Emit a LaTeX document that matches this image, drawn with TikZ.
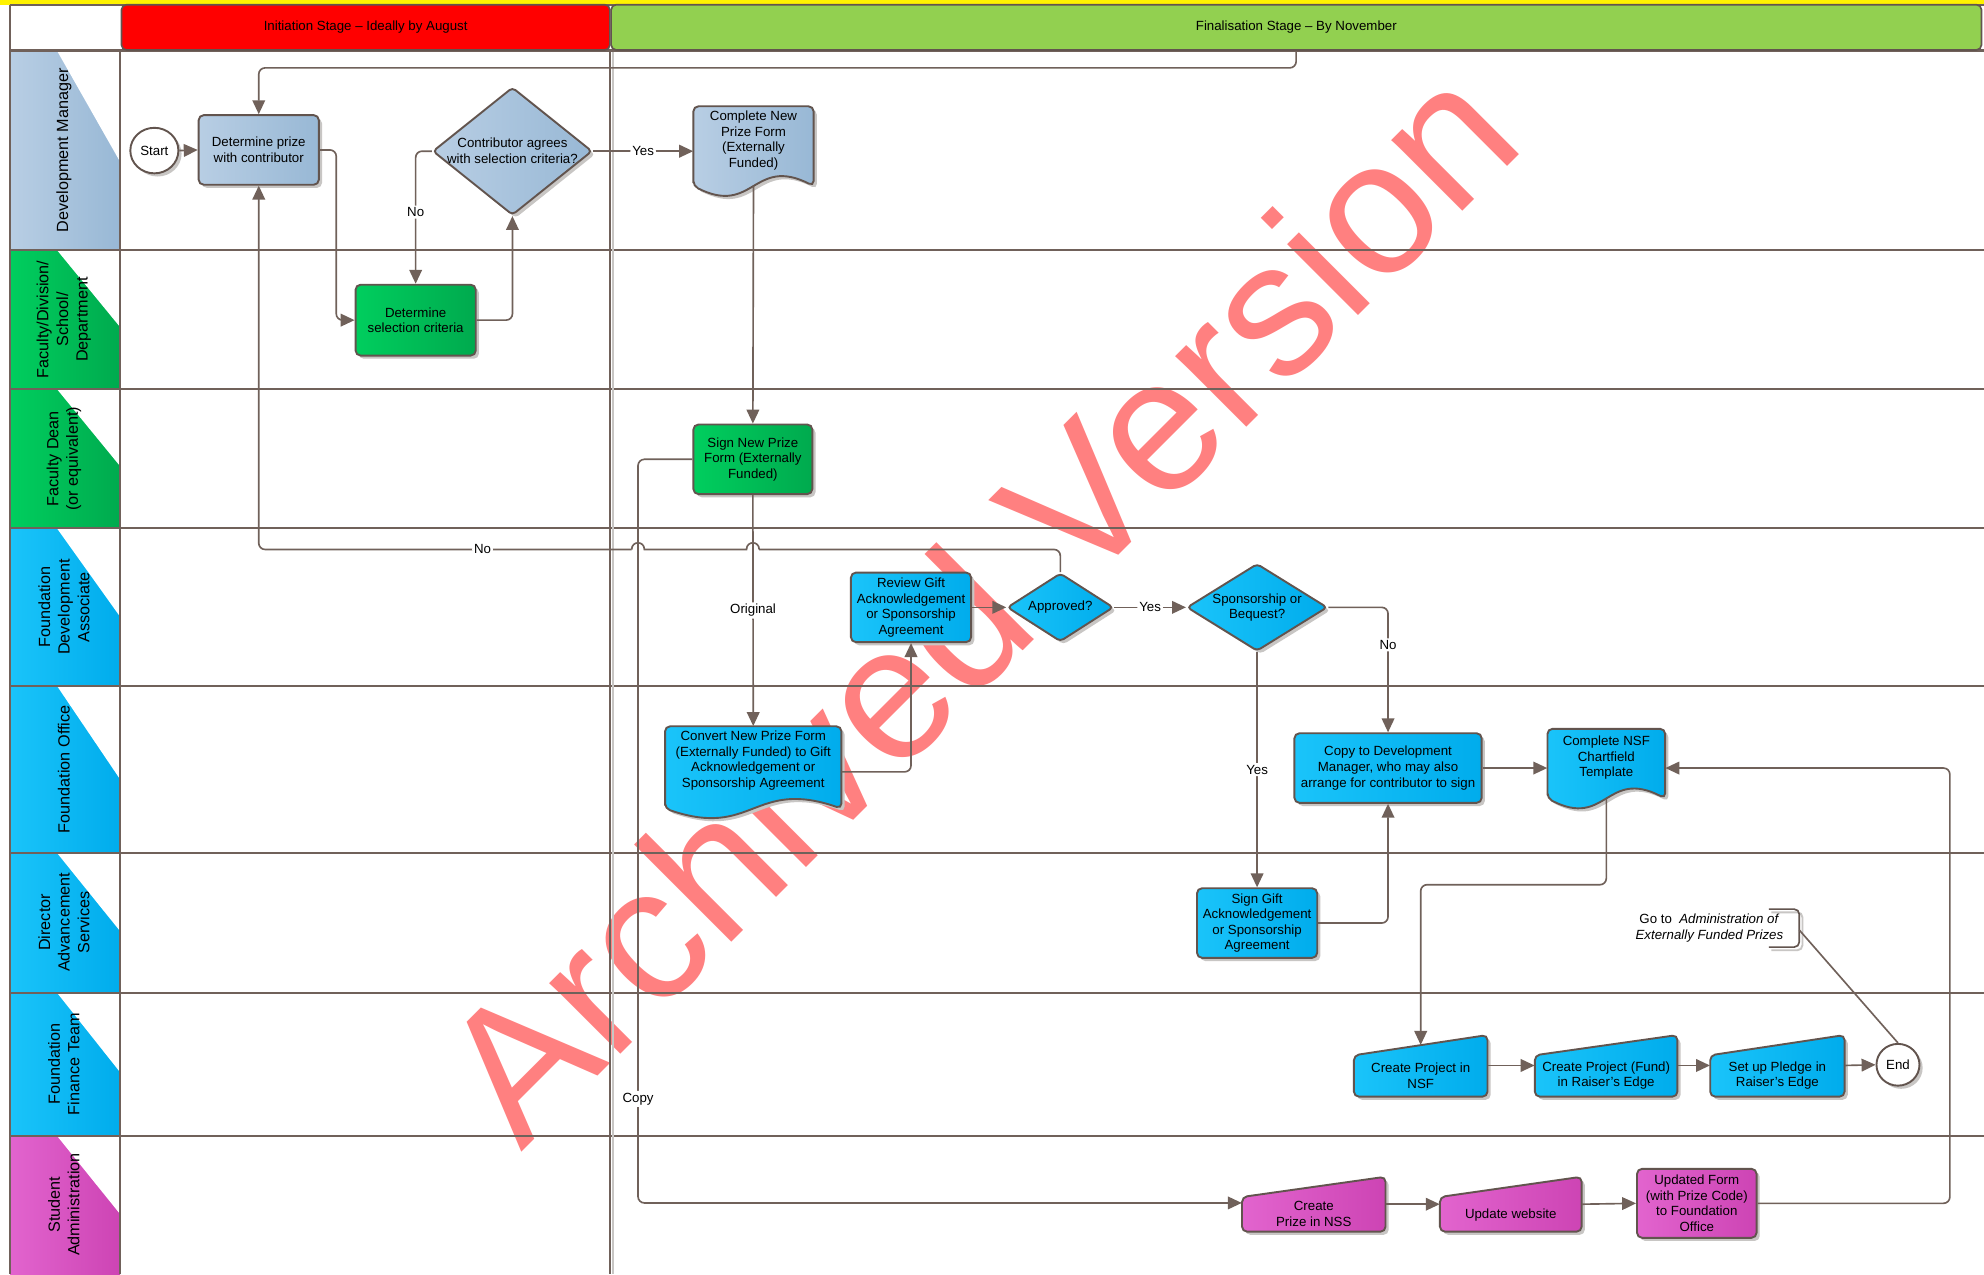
\documentclass[tikz,border=0pt]{standalone}
\usepackage{fontspec}
\setmainfont{Liberation Sans}
\usetikzlibrary{arrows.meta,shapes.geometric,shadows,calc}
\definecolor{ln}{RGB}{112,97,90}
\definecolor{bd}{RGB}{98,84,78}
\definecolor{dmA}{RGB}{184,206,228}
\definecolor{dmB}{RGB}{152,184,213}
\definecolor{grA}{RGB}{0,206,94}
\definecolor{grB}{RGB}{0,170,78}
\definecolor{blA}{RGB}{26,196,250}
\definecolor{blB}{RGB}{0,172,236}
\definecolor{mgA}{RGB}{226,100,206}
\definecolor{mgB}{RGB}{205,68,180}
\definecolor{hdG}{RGB}{146,208,80}
\definecolor{wm}{RGB}{255,128,128}
\definecolor{shd}{RGB}{200,198,196}
\newcommand{\docshape}[6]{%
 \fill[shd, rounded corners=4pt] (#1+2.5,#4+2.5) -- (#1+2.5,#2+2.5) -- (#3+2.5,#2+2.5) -- (#3+2.5,#4+2.5) .. controls (0.5*#1+0.5*#3+2.5,#4-21.5) and (0.5*#1+0.5*#3+2.5,#4+26.5) .. (#1+2.5,#4+2.5) -- cycle;
 \draw[draw=bd, line width=1.5pt, rounded corners=4pt, left color=#5, right color=#6] (#1,#4) -- (#1,#2) -- (#3,#2) -- (#3,#4) .. controls (0.5*#1+0.5*#3,#4-24) and (0.5*#1+0.5*#3,#4+24) .. (#1,#4) -- cycle;}
\newcommand{\mishape}[7]{%
 \fill[shd, rounded corners=4pt] (#1+2.5,#2+2.5) -- (#3+2.5,#4+2.5) -- (#3+2.5,#5+2.5) -- (#1+2.5,#5+2.5) -- cycle;
 \draw[draw=bd, line width=1.5pt, rounded corners=4pt, left color=#6, right color=#7] (#1,#2) -- (#3,#4) -- (#3,#5) -- (#1,#5) -- cycle;}
\newcommand{\lanefill}[5]{%
 \fill[left color=#4, right color=#5] (8,#1) rectangle (95,#2);
 \fill[white] (45,#1) -- (95,#1) -- (95,#1+#3) -- cycle;}
\begin{document}
\begin{tikzpicture}[x=1pt,y=-1pt,
 nf/.style={font=\fontsize{10.5}{12.3}\selectfont},
 conn/.style={draw=ln, line width=1.3pt, rounded corners=5pt},
 arr/.style={conn, -{Triangle[length=11pt,width=10pt]}},
 lbl/.style={nf, fill=white, inner sep=1.5pt},
 txt/.style={nf, align=center, inner sep=0pt},
 anch/.style={rectangle, inner sep=0pt, draw=none},
 box/.style={nf, rectangle, rounded corners=4pt, draw=bd, line width=1.5pt, align=center, inner sep=1pt,
   drop shadow={shadow xshift=2.5pt, shadow yshift=-2.5pt, fill=shd, opacity=1}},
 dia/.style={diamond, draw=bd, line width=1.5pt, inner sep=0pt, rounded corners=3pt,
   drop shadow={shadow xshift=2.5pt, shadow yshift=-2.5pt, fill=shd, opacity=1}},
 term/.style={ellipse, draw=bd, line width=1.5pt, fill=white, nf, inner sep=0pt,
   drop shadow={shadow xshift=2.5pt, shadow yshift=-2.5pt, fill=shd, opacity=1}},
 hdr/.style={rectangle, rounded corners=4pt, draw=bd, line width=1.3pt, nf, inner sep=0pt},
 lanetxt/.style={rotate=90, align=center, font=\fontsize{12.8}{15.5}\selectfont, inner sep=0pt},
 lane/.style={draw=ln, line width=1.8pt},
 dmfill/.style={left color=dmA, right color=dmB},
 grfill/.style={left color=grA, right color=grB},
 blfill/.style={left color=blA, right color=blB},
 mgfill/.style={left color=mgA, right color=mgB},
 wmark/.style={text=wm, font=\fontsize{150}{150}\selectfont, inner sep=0pt}]
\useasboundingbox (0,0) rectangle (1568,1007);
\fill[white] (0,0) rectangle (1568,1007);
% watermark
\node[wmark, anchor=base west, rotate=45] (wmk) at (412,911) {Archived Version};
% top strip
\fill[yellow] (0,0) rectangle (1568,3.6);
% lane label cells
\lanefill{40}{197.6}{88}{dmA}{dmB}
\lanefill{197.6}{307.5}{61}{grA}{grB}
\lanefill{307.5}{417.5}{61}{grA}{grB}
\lanefill{417.5}{542}{70}{blA}{blB}
\lanefill{542}{674}{74}{blA}{blB}
\lanefill{674}{784.5}{62}{blA}{blB}
\lanefill{784.5}{897.6}{63}{blA}{blB}
\lanefill{897.6}{1007}{62}{mgA}{mgB}
% lane lines
\draw[draw=ln, line width=1pt] (8,4) -- (1568,4);
\foreach \yy in {40,197.6,307.5,417.5,542,674,784.5,897.6} {\draw[lane] (8,\yy) -- (1568,\yy);}
\draw[lane] (8,3.6) -- (8,1007);
\draw[lane, line width=1.4pt] (95,40) -- (95,1007);
\draw[lane] (482,40) -- (482,1007);
\draw[draw=shd, line width=1.5pt] (484.6,41) -- (484.6,1007);
% headers
\node[hdr, fill=red, minimum width=386pt, minimum height=35.8pt] (inithdr) at (289,21.6) {Initiation Stage – Ideally by August};
\node[hdr, fill=hdG, minimum width=1083pt, minimum height=35.8pt] (finhdr) at (1024.5,21.6) {Finalisation Stage – By November};
% lane labels
\node[lanetxt] (lDM) at (50.5,118.8) {Development Manager};
\node[lanetxt] (lFac) at (50.5,252.5) {Faculty/Division/\\School/\\Department};
\node[lanetxt] (lDean) at (50.5,362.5) {Faculty Dean\\(or equivalent)};
\node[lanetxt] (lFDA) at (50.5,479.8) {Foundation\\Development\\Associate};
\node[lanetxt] (lFO) at (50.5,608) {Foundation Office};
\node[lanetxt] (lDir) at (50.5,729) {Director\\Advancement\\Services};
\node[lanetxt] (lFFT) at (50.5,841) {Foundation\\Finance Team};
\node[lanetxt] (lSA) at (50.5,952) {Student\\Administration};
% nodes
\node[term, minimum width=38pt, minimum height=36pt] (start) at (122,119) {Start};
\node[box, dmfill, minimum width=95pt, minimum height=55pt] (detprize) at (204.5,118.5) {Determine prize\\with contributor};
\node[dia, dmfill, minimum width=126pt, minimum height=101pt] (contrib) at (405,119.5) {};
\node[txt] (contribT) at (405,119) {Contributor agrees\\with selection criteria?};
\docshape{548}{84}{643}{147}{dmA}{dmB}
\node[anch, minimum width=95pt, minimum height=63pt] (cnpf) at (595.5,115.5) {};
\node[txt] (cnpfT) at (595.5,111) {Complete New\\Prize Form\\(Externally\\Funded)};
\node[box, grfill, minimum width=95pt, minimum height=56pt] (detsel) at (328.5,253) {Determine\\selection criteria};
\node[box, grfill, minimum width=94pt, minimum height=55pt] (signnpf) at (595,363) {Sign New Prize\\Form (Externally\\Funded)};
\node[box, blfill, minimum width=95pt, minimum height=55pt] (review) at (720,480) {Review Gift\\Acknowledgement\\or Sponsorship\\Agreement};
\node[dia, blfill, minimum width=84pt, minimum height=54pt] (approved) at (838,480) {};
\node[txt] (approvedT) at (838,480) {Approved?};
\node[dia, blfill, minimum width=111pt, minimum height=69pt] (sponsor) at (993.5,480) {};
\node[txt] (sponsorT) at (993.5,480) {Sponsorship or\\Bequest?};
\docshape{525.6}{574}{665}{639}{blA}{blB}
\node[anch, minimum width=139.4pt, minimum height=65pt] (convert) at (595.3,606.5) {};
\node[txt] (convertT) at (595.3,601) {Convert New Prize Form\\(Externally Funded) to Gift\\Acknowledgement or\\Sponsorship Agreement};
\node[box, blfill, minimum width=148pt, minimum height=55pt] (copydm) at (1097,607) {Copy to Development\\Manager, who may also\\arrange for contributor to sign};
\docshape{1223}{576}{1316}{631}{blA}{blB}
\node[anch, minimum width=93pt, minimum height=55pt] (chart) at (1269.5,603.5) {};
\node[txt] (chartT) at (1269.5,599) {Complete NSF\\Chartfield\\Template};
\node[box, blfill, minimum width=95pt, minimum height=55pt] (signgift) at (993.5,729.5) {Sign Gift\\Acknowledgement\\or Sponsorship\\Agreement};
% annotation
\node[txt] (goto) at (1351,733.5) {Go to \ \textit{Administration of}\\\textit{Externally Funded Prizes}};
\draw[draw=shd, line width=1.5pt, rounded corners=4pt] (1400,721) -- (1424.5,721) -- (1424.5,751) -- (1400,751);
\draw[draw=bd, line width=1.3pt, rounded corners=4pt] (1398,718.5) -- (1422,718.5) -- (1422,748.5) -- (1398,748.5);
\coordinate (gotoB) at (1422,735);
\node[term, minimum width=34pt, minimum height=33pt] (end) at (1500,841.5) {End};
\mishape{1070}{834}{1175.6}{818}{866.7}{blA}{blB}
\node[anch, minimum width=105.6pt, minimum height=40.7pt] (cpnsf) at (1122.8,846.35) {};
\node[txt] (cpnsfT) at (1122.8,850) {Create Project in\\NSF};
\mishape{1213}{834}{1325.7}{818}{866.7}{blA}{blB}
\node[anch, minimum width=112.7pt, minimum height=40.7pt] (cpfund) at (1269.35,846.35) {};
\node[txt] (cpfundT) at (1269.35,850) {Create Project (Fund)\\in Raiser's Edge};
\mishape{1351.6}{834}{1457.8}{818}{866.7}{blA}{blB}
\node[anch, minimum width=106.2pt, minimum height=40.7pt] (pledge) at (1404.7,846.35) {};
\node[txt] (pledgeT) at (1404.7,850) {Set up Pledge in\\Raiser's Edge};
\mishape{981.6}{946}{1095}{930}{973.4}{mgA}{mgB}
\node[anch, minimum width=113.4pt, minimum height=35.4pt] (cprize) at (1038.3,955.7) {};
\node[txt] (cprizeT) at (1038.3,959.5) {Create\\Prize in NSS};
\mishape{1138}{946}{1250}{930}{973.4}{mgA}{mgB}
\node[anch, minimum width=112pt, minimum height=35.4pt] (updweb) at (1194,955.7) {};
\node[txt] (updwebT) at (1194,960) {Update website};
\node[box, mgfill, minimum width=94.5pt, minimum height=54.5pt] (updform) at (1341,951) {Updated Form\\(with Prize Code)\\to Foundation\\Office};
% connectors
\draw[arr] ([xshift=542pt]finhdr.south west) -- ++(0,13.5) -| (detprize.north);
\draw[arr] (start.east) -- (detprize.west);
\draw[arr] (detprize.east) -- ++(13,0) |- (detsel.west);
\draw[arr] (detsel.east) -| (contrib.south);
\draw[arr] (contrib.west) -| node[lbl,pos=0.73]{No} (detsel.north);
\draw[arr] (contrib.east) -- node[lbl]{Yes} (contrib.east -| cnpf.west);
\draw[arr] (cnpf.south) -- (signnpf.north);
\draw[arr] (signnpf.south) -- node[lbl]{Original} (convert.north);
\coordinate (cp1) at ([xshift=-43pt]signnpf.west);
\coordinate (cprizeIn) at ([yshift=5pt]cprize.west);
\draw[arr] (signnpf.west) -- (cp1) -- node[lbl,pos=0.86]{Copy} (cp1 |- cprizeIn) -- (cprizeIn);
\draw[arr] ([yshift=-3.5pt]convert.east) -| (review.south);
\draw[arr] (review.east) -- (approved.west);
\draw[arr] (approved.east) -- node[lbl]{Yes} (sponsor.west);
\coordinate (nl) at ([yshift=18pt]approved.north);
\coordinate (h1a) at ($(signnpf |- nl)+(5,0)$);
\coordinate (h1b) at ($(signnpf |- nl)+(-5,0)$);
\coordinate (h2a) at ($(cp1 |- nl)+(5,0)$);
\coordinate (h2b) at ($(cp1 |- nl)+(-5,0)$);
\coordinate (nc) at (detprize.south |- nl);
\draw[conn] (approved.north) -- (nl) -- (h1a);
\draw[conn, sharp corners] (h1a) .. controls +(0,-7) and +(0,-7) .. (h1b) -- (h2a) .. controls +(0,-7) and +(0,-7) .. (h2b);
\draw[arr] (h2b) -- node[lbl,pos=0.4]{No} (nc) -- (detprize.south);
\draw[arr] (sponsor.east) -| node[lbl,pos=0.65]{No} (copydm.north);
\draw[arr] (sponsor.south) -- node[lbl]{Yes} (signgift.north);
\draw[arr] (signgift.east) -| (copydm.south);
\draw[arr] (copydm.east) -- (copydm.east -| chart.west);
\draw[arr] (chart.south) -- ++(0,68) -| (cpnsf.north);
\draw[arr] ([yshift=4.3pt]cpnsf.east) -- ([yshift=4.3pt]cpfund.west);
\draw[arr] ([yshift=4.3pt]cpfund.east) -- ([yshift=4.3pt]pledge.west);
\draw[arr] ([yshift=4.3pt]pledge.east) -- (end.west);
\draw[conn] (gotoB) -- (end.north);
\draw[arr] ([yshift=4pt]cprize.east) -- ([yshift=4pt]updweb.west);
\draw[arr] ([yshift=4pt]updweb.east) -- (updform.west);
\draw[arr] (updform.east) -- ++(152,0) |- ([yshift=-3.5pt]chart.east);
\end{tikzpicture}
\end{document}
